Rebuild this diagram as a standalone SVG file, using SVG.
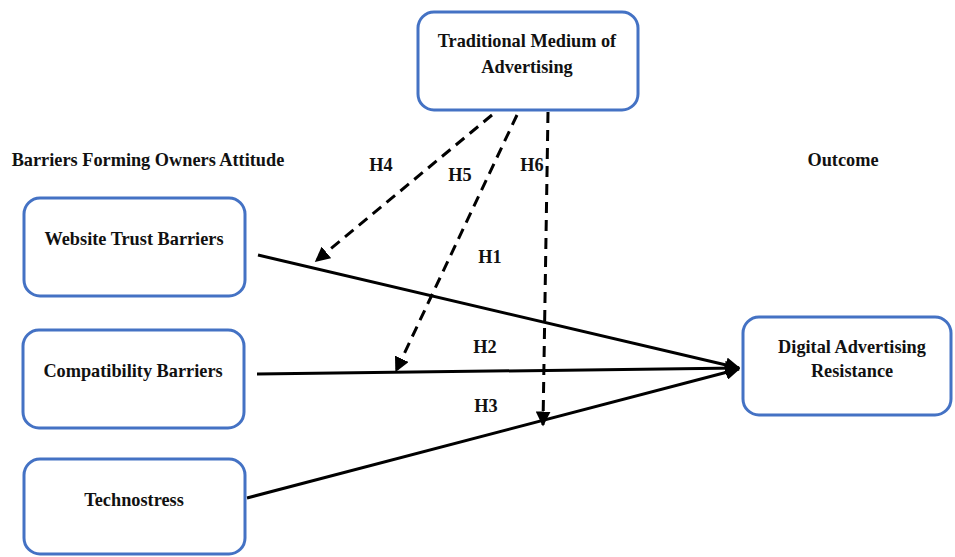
<svg xmlns="http://www.w3.org/2000/svg" width="955" height="557" viewBox="0 0 955 557">
<style>
.box{fill:#fff;stroke:#4472C4;stroke-width:3}
.t{font-family:"Liberation Serif","Times New Roman","DejaVu Serif",serif;font-weight:bold;font-size:18.3px;fill:#111;text-anchor:middle}
.l{stroke:#000;stroke-width:3;fill:none}
.d{stroke:#000;stroke-width:3;fill:none;stroke-dasharray:11 7}
</style>
<defs>
<marker id="ah" viewBox="0 0 10 10" refX="9" refY="5" markerWidth="5" markerHeight="5" markerUnits="strokeWidth" orient="auto">
<path d="M0,0 L10,5 L0,10 z" fill="#000"/>
</marker>
</defs>
<rect width="955" height="557" fill="#fff"/>
<text class="t" x="148" y="166">Barriers Forming Owners Attitude</text>
<text class="t" x="843" y="166">Outcome</text>
<g id="connectors">
<line class="l" x1="258" y1="255" x2="739" y2="368" marker-end="url(#ah)"/>
<line class="l" x1="257" y1="374" x2="739" y2="368" marker-end="url(#ah)"/>
<line class="l" x1="247" y1="498" x2="739" y2="369" marker-end="url(#ah)"/>
<line class="d" x1="492" y1="115" x2="316" y2="261" marker-end="url(#ah)"/>
<line class="d" x1="517" y1="115" x2="396" y2="371" marker-end="url(#ah)"/>
<line class="d" x1="548" y1="112" x2="543" y2="425" marker-end="url(#ah)"/>
<text class="t" x="381" y="171">H4</text>
<text class="t" x="460" y="181">H5</text>
<text class="t" x="532" y="171">H6</text>
<text class="t" x="490" y="263">H1</text>
<text class="t" x="485" y="353">H2</text>
<text class="t" x="486" y="412">H3</text>
</g>
<g id="traditional">
<rect class="box" x="418" y="12" width="220" height="98" rx="16"/>
<text class="t" x="527" y="47">Traditional Medium of</text>
<text class="t" x="527" y="73">Advertising</text>
</g>
<g id="website">
<rect class="box" x="24" y="198" width="221" height="98" rx="16"/>
<text class="t" x="134" y="245">Website Trust Barriers</text>
</g>
<g id="compat">
<rect class="box" x="23" y="330" width="221" height="98" rx="16"/>
<text class="t" x="133" y="377">Compatibility Barriers</text>
</g>
<g id="techno">
<rect class="box" x="24" y="459" width="221" height="95" rx="16"/>
<text class="t" x="134" y="506">Technostress</text>
</g>
<g id="resistance">
<rect class="box" x="743" y="317" width="208" height="98" rx="16"/>
<text class="t" x="852" y="353">Digital Advertising</text>
<text class="t" x="852" y="377">Resistance</text>
</g>
</svg>
